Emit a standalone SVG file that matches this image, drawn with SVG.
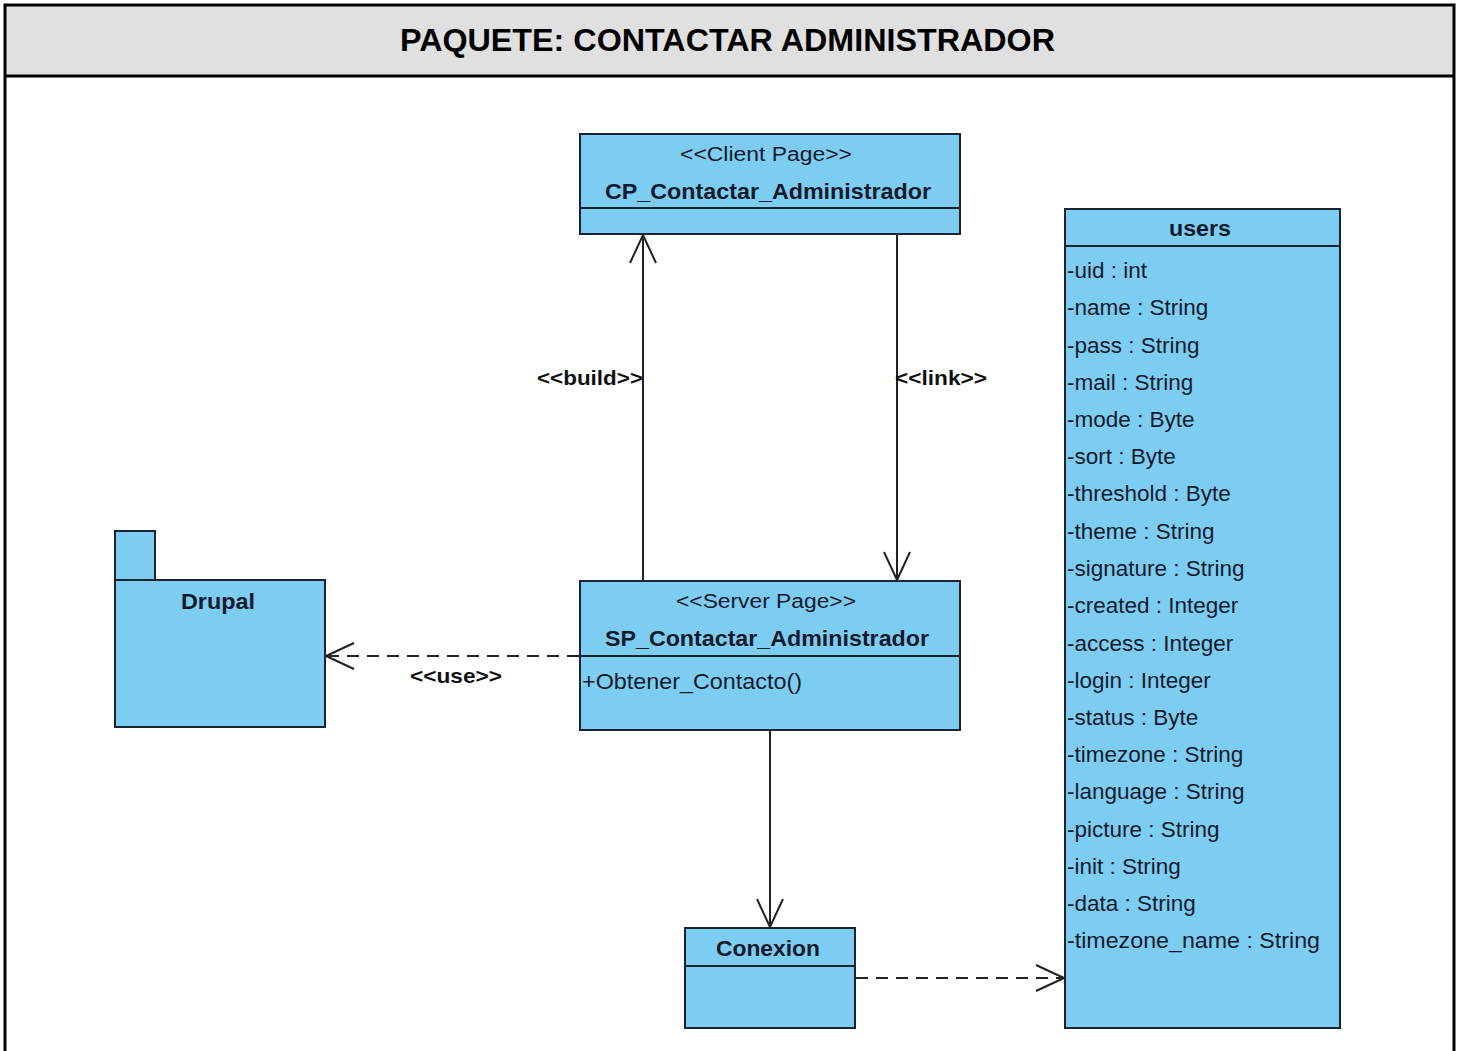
<svg xmlns="http://www.w3.org/2000/svg" width="1460" height="1051" viewBox="0 0 1460 1051">
  <style>
    .box { fill: #7dcdf2; stroke: #1a2433; stroke-width: 2; }
    .sep { stroke: #1a2433; stroke-width: 2; }
    .txt { font-family: "Liberation Sans", Arial, sans-serif; fill: #0d1a2b; }
    .st { font-size: 20px; text-anchor: middle; }
    .nm { font-size: 22px; font-weight: bold; text-anchor: middle; }
    .attr { font-size: 22.5px; }
    .lbl { font-family: "Liberation Sans", Arial, sans-serif; font-size: 21px; font-weight: bold; fill: #111; }
    .edge { fill: none; stroke: #222; stroke-width: 2; }
    .dash { stroke-dasharray: 12 8; }
  </style>
  <defs>
    <marker id="open" viewBox="0 0 32 32" refX="30" refY="16" markerWidth="32" markerHeight="32" markerUnits="userSpaceOnUse" orient="auto">
      <path d="M2,3 L30,16 L2,29" fill="none" stroke="#222" stroke-width="2"/>
    </marker>
  </defs>

  <!-- frame -->
  <rect x="0" y="0" width="1460" height="1051" fill="#ffffff"/>
  <rect x="5" y="5" width="1449" height="71" fill="#e0e0e0"/>
  <path d="M5,1051 V5 H1454 V1051 M5,76 H1454" fill="none" stroke="#000" stroke-width="3"/>
  <text x="400" y="51" font-family="Liberation Sans, Arial, sans-serif" font-size="31" font-weight="bold" fill="#000" textLength="655" lengthAdjust="spacingAndGlyphs">PAQUETE: CONTACTAR ADMINISTRADOR</text>

  <!-- connectors -->
  <g id="connectors">
    <line class="edge" x1="643" y1="580" x2="643" y2="235" marker-end="url(#open)"/>
    <line class="edge" x1="897" y1="235" x2="897" y2="580" marker-end="url(#open)"/>
    <line class="edge dash" x1="579" y1="656" x2="326" y2="656" marker-end="url(#open)"/>
    <line class="edge" x1="770" y1="731" x2="770" y2="927" marker-end="url(#open)"/>
    <line class="edge dash" x1="856" y1="978" x2="1064" y2="978" marker-end="url(#open)"/>
    <text class="lbl" x="537" y="385" textLength="106" lengthAdjust="spacingAndGlyphs">&lt;&lt;build&gt;&gt;</text>
    <text class="lbl" x="895" y="385" textLength="92" lengthAdjust="spacingAndGlyphs">&lt;&lt;link&gt;&gt;</text>
    <text class="lbl" x="410" y="683" textLength="92" lengthAdjust="spacingAndGlyphs">&lt;&lt;use&gt;&gt;</text>
  </g>

  <!-- client page -->
  <g id="cp-contactar-administrador">
    <rect class="box" x="580" y="134" width="380" height="100"/>
    <line class="sep" x1="580" y1="208" x2="960" y2="208"/>
    <text class="txt st" x="766" y="161" textLength="172" lengthAdjust="spacingAndGlyphs">&lt;&lt;Client Page&gt;&gt;</text>
    <text class="txt nm" x="768" y="199" textLength="326" lengthAdjust="spacingAndGlyphs">CP_Contactar_Administrador</text>
  </g>

  <!-- server page -->
  <g id="sp-contactar-administrador">
    <rect class="box" x="580" y="581" width="380" height="149"/>
    <line class="sep" x1="580" y1="656" x2="960" y2="656"/>
    <text class="txt st" x="766" y="608" textLength="180" lengthAdjust="spacingAndGlyphs">&lt;&lt;Server Page&gt;&gt;</text>
    <text class="txt nm" x="767" y="646" textLength="324" lengthAdjust="spacingAndGlyphs">SP_Contactar_Administrador</text>
    <text class="txt attr" x="582" y="689" textLength="220" lengthAdjust="spacingAndGlyphs">+Obtener_Contacto()</text>
  </g>

  <!-- Drupal package -->
  <g id="drupal">
    <rect class="box" x="115" y="531" width="40" height="49"/>
    <rect class="box" x="115" y="580" width="210" height="147"/>
    <text class="txt" x="181" y="609" font-size="22" font-weight="bold" textLength="74" lengthAdjust="spacingAndGlyphs">Drupal</text>
  </g>

  <!-- Conexion -->
  <g id="conexion">
    <rect class="box" x="685" y="928" width="170" height="100"/>
    <line class="sep" x1="685" y1="966" x2="855" y2="966"/>
    <text class="txt nm" x="768" y="956" textLength="104" lengthAdjust="spacingAndGlyphs">Conexion</text>
  </g>

  <!-- users table -->
  <g id="users">
    <rect class="box" x="1065" y="209" width="275" height="819"/>
    <line class="sep" x1="1065" y1="246" x2="1340" y2="246"/>
    <text class="txt nm" x="1200" y="236" textLength="62" lengthAdjust="spacingAndGlyphs">users</text>
    <g class="txt attr">
      <text x="1067" y="278">-uid : int</text>
      <text x="1067" y="315">-name : String</text>
      <text x="1067" y="353">-pass : String</text>
      <text x="1067" y="390">-mail : String</text>
      <text x="1067" y="427">-mode : Byte</text>
      <text x="1067" y="464">-sort : Byte</text>
      <text x="1067" y="501">-threshold : Byte</text>
      <text x="1067" y="539">-theme : String</text>
      <text x="1067" y="576">-signature : String</text>
      <text x="1067" y="613">-created : Integer</text>
      <text x="1067" y="651">-access : Integer</text>
      <text x="1067" y="688">-login : Integer</text>
      <text x="1067" y="725">-status : Byte</text>
      <text x="1067" y="762">-timezone : String</text>
      <text x="1067" y="799">-language : String</text>
      <text x="1067" y="837">-picture : String</text>
      <text x="1067" y="874">-init : String</text>
      <text x="1067" y="911">-data : String</text>
      <text x="1067" y="948" textLength="253" lengthAdjust="spacingAndGlyphs">-timezone_name : String</text>
    </g>
  </g>
</svg>
